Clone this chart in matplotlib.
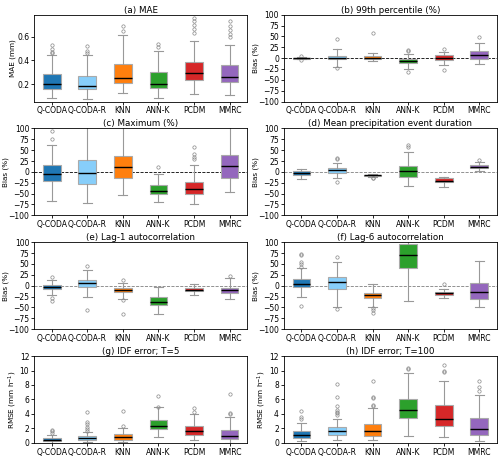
import numpy as np
import matplotlib.pyplot as plt

methods = ["Q-CODA", "Q-CODA-R", "KNN", "ANN-K", "PCDM", "MMRC"]
colors = ["#1f77b4", "#87cefa", "#ff7f0e", "#2ca02c", "#d62728", "#9467bd"]

# each row: whislo, q1, median, q3, whishi
mae_stats = [[0.087, 0.163, 0.200, 0.285, 0.450],
             [0.080, 0.158, 0.186, 0.273, 0.445],
             [0.124, 0.208, 0.256, 0.372, 0.614],
             [0.087, 0.172, 0.200, 0.300, 0.480],
             [0.120, 0.237, 0.293, 0.390, 0.560],
             [0.107, 0.218, 0.265, 0.360, 0.530]]
mae_fliers = [[0.46, 0.47, 0.50, 0.53], [0.46, 0.48, 0.52], [0.65, 0.69],
              [0.51, 0.54], [0.63, 0.665, 0.70, 0.73, 0.76], [0.60, 0.62, 0.655, 0.69, 0.735]]

p99_stats = [[-3, -1, 0, 1, 3],
             [-20, -3, 0, 5, 20],
             [-6, -1, 1, 4, 11],
             [-24, -11, -6, -2, 9],
             [-15, -5, 0, 6, 13],
             [-13, -1, 8, 17, 35]]
p99_fliers = [[-4, 4], [45, -22], [57], [16, 18, -32], [22, -27], [48]]

max_stats = [[-67, -21, -5, 15, 62],
             [-72, -29, -2, 27, 130],
             [-54, -14, 11, 37, 130],
             [-69, -52, -45, -31, -6],
             [-74, -52, -40, -23, 16],
             [-47, -13, 14, 40, 130]]
max_fliers = [[75, 93], [], [], [12], [30, 34, 41, 58], []]

dur_stats = [[-17, -7, -2, 3, 7],
             [-13, -2, 4, 10, 21],
             [-11, -10, -8, -7, -6],
             [-32, -11, 1, 14, 45],
             [-34, -23, -20, -15, -12],
             [2, 8, 11, 16, 22]]
dur_fliers = [[], [30, 33, -23], [-13, -15], [58, 62], [], [28]]

lag1_stats = [[-22, -7, -3, 2, 14],
              [-25, -4, 6, 12, 35],
              [-31, -15, -10, -6, 5],
              [-66, -44, -37, -26, -2],
              [-21, -13, -10, -6, 3],
              [-30, -18, -11, -5, 18]]
lag1_fliers = [[19, -28, -35], [46, -55], [12, -33, -65], [], [], [22]]

lag6_stats = [[-26, -3, 3, 15, 40],
              [-49, -8, 9, 21, 55],
              [-48, -28, -22, -16, 3],
              [-35, 40, 71, 97, 130],
              [-28, -22, -18, -14, -8],
              [-48, -31, -15, 5, 57]]
lag6_fliers = [[43, 50, 55, 70, 74, -47], [67, -54], [-52, -57, -62], [], [3], []]

idf5_stats = [[0.05, 0.25, 0.45, 0.70, 1.15],
              [0.10, 0.45, 0.70, 1.00, 1.55],
              [0.15, 0.45, 0.75, 1.20, 2.10],
              [0.75, 1.90, 2.35, 3.20, 4.90],
              [0.45, 1.05, 1.60, 2.35, 4.00],
              [0.05, 0.50, 1.00, 1.75, 3.60]]
idf5_fliers = [[1.35, 1.60, 1.75], [1.70, 1.90, 2.20, 2.60, 2.90, 4.30], [2.40, 4.40],
               [5.0, 6.5], [4.3, 4.8], [4.0, 4.15, 6.8]]

idf100_stats = [[0.30, 0.70, 1.15, 1.70, 2.80],
                [0.40, 1.15, 1.60, 2.15, 3.30],
                [0.40, 0.95, 1.60, 2.60, 4.80],
                [1.00, 3.45, 4.55, 6.05, 9.60],
                [0.85, 2.30, 3.30, 5.20, 8.60],
                [0.30, 1.05, 1.95, 3.50, 6.60]]
idf100_fliers = [[3.3, 3.6, 4.4], [3.9, 4.1, 4.3, 4.6, 5.1, 6.3, 8.2],
                 [5.1, 5.3, 6.2, 6.4, 8.5], [10.2, 10.3], [9.8, 10.0, 10.8], [7.2, 7.7, 8.5]]

panels = [
    ("(a) MAE", mae_stats, mae_fliers, "MAE (mm)", None),
    ("(b) 99th percentile (%)", p99_stats, p99_fliers, "Bias (%)", "k"),
    ("(c) Maximum (%)", max_stats, max_fliers, "Bias (%)", "k"),
    ("(d) Mean precipitation event duration", dur_stats, dur_fliers, "Bias (%)", "grey"),
    ("(e) Lag-1 autocorrelation", lag1_stats, lag1_fliers, "Bias (%)", "grey"),
    ("(f) Lag-6 autocorrelation", lag6_stats, lag6_fliers, "Bias (%)", "grey"),
    ("(g) IDF error; T=5", idf5_stats, idf5_fliers, "RMSE (mm h$^{-1}$)", None),
    ("(h) IDF error; T=100", idf100_stats, idf100_fliers, "RMSE (mm h$^{-1}$)", None),
]

fig, axes = plt.subplots(4, 2, figsize=(5.0, 4.58), dpi=100)
fig.subplots_adjust(left=0.068, right=0.994, top=0.968, bottom=0.033,
                    wspace=0.17, hspace=0.31)

for ax, (title, stats, fliers, ylab, zline) in zip(axes.flat, panels):
    bstats = []
    for m, s, f in zip(methods, stats, fliers):
        bstats.append(dict(label=m, whislo=s[0], q1=s[1], med=s[2], q3=s[3],
                           whishi=s[4], fliers=f))
    if zline is not None:
        ax.axhline(0, color=zline, ls="--", lw=0.6, zorder=0)
    bp = ax.bxp(bstats, widths=0.5, patch_artist=True, showcaps=True,
                boxprops=dict(edgecolor="#aaaaaa", linewidth=0.8),
                whiskerprops=dict(color="#999999", linewidth=0.8),
                capprops=dict(color="#999999", linewidth=0.8),
                medianprops=dict(color="k", linewidth=1.0),
                flierprops=dict(marker="o", markersize=2.4, markerfacecolor="none",
                                markeredgecolor="#888888", markeredgewidth=0.5))
    for patch, c in zip(bp["boxes"], colors):
        patch.set_facecolor(c)
    ax.set_title(title, fontsize=6.3, pad=1.5)
    ax.set_ylabel(ylab, fontsize=5.2)
    ax.tick_params(labelsize=5.5, pad=1.2, length=2.2, width=0.6)
    for sp in ax.spines.values():
        sp.set_linewidth(0.6)
    if ylab == "Bias (%)":
        ax.set_ylim(-100, 100)
        ax.set_yticks(np.arange(-100, 101, 25))
        ax.yaxis.set_label_coords(-0.115, 0.5)
    elif ylab == "MAE (mm)":
        ax.set_ylim(0.055, 0.785)
        ax.set_yticks([0.2, 0.4, 0.6])
        ax.yaxis.set_label_coords(-0.085, 0.5)
    else:
        ax.set_ylim(0, 12)
        ax.set_yticks(np.arange(0, 13, 2))
        ax.yaxis.set_label_coords(-0.072, 0.5)

fig.savefig("out.png", dpi=100)
plt.close(fig)
